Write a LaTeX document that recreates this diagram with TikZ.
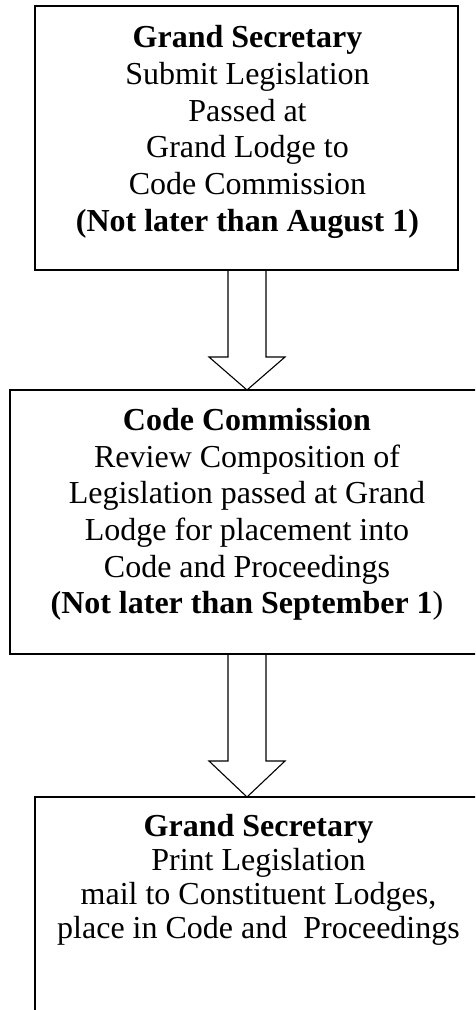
\documentclass[tikz,border=0pt]{standalone}
\usepackage{fontspec}
\setmainfont{Liberation Serif}
\usetikzlibrary{calc}
\tikzset{
  box/.style={draw, line width=1.7pt, rectangle, inner sep=0pt, outer sep=0pt},
  boxtext/.style={align=center, anchor=north, inner sep=0pt, outer sep=0pt},
  blockarrow/.style={draw, line width=1.1pt, line join=miter},
}
\begin{document}
\begin{tikzpicture}[x=1pt,y=-1pt]
\useasboundingbox (0,0) rectangle (475,1010);
\clip (0,0) rectangle (475,1010);
% boxes
\node[box, minimum width=423pt, minimum height=264pt] (box1) at (246.5,138) {};
\node[box, minimum width=474pt, minimum height=264pt] (box2) at (247,522) {};
\node[box, minimum width=447pt, minimum height=263pt] (box3) at (258.5,928.5) {};
% texts
\node[boxtext, font=\fontsize{32}{36.7}\selectfont] (t1) at (247.5,25.6)
  {\textbf{Grand Secretary}\\Submit Legislation\\Passed at\\Grand Lodge to\\Code Commission\\\textbf{(Not later than August 1)}};
\node[boxtext, font=\fontsize{32}{36.7}\selectfont] (t2) at (247,408.2)
  {\textbf{Code Commission}\\Review Composition of\\Legislation passed at Grand\\Lodge for placement into\\Code and Proceedings\\\textbf{(Not later than September 1})};
\node[boxtext, font=\fontsize{32}{34.2}\selectfont] (t3) at (258.5,814)
  {\textbf{Grand Secretary}\\Print Legislation\\mail to Constituent Lodges,\\place in Code and\ \ Proceedings};
% block arrows
\draw[blockarrow] let \p1=(box1.south), \p2=(box2.north) in
  (\x2-19pt,\y1) -- (\x2-19pt,\y2+33pt) -- (\x2-38pt,\y2+33pt) -- (\x2,\y2)
  -- (\x2+38pt,\y2+33pt) -- (\x2+19pt,\y2+33pt) -- (\x2+19pt,\y1);
\draw[blockarrow] let \p1=(box2.south), \p2=(box3.north) in
  (\x1-19pt,\y1) -- (\x1-19pt,\y2+36pt) -- (\x1-38pt,\y2+36pt) -- (\x1,\y2)
  -- (\x1+38pt,\y2+36pt) -- (\x1+19pt,\y2+36pt) -- (\x1+19pt,\y1);
\end{tikzpicture}
\end{document}
